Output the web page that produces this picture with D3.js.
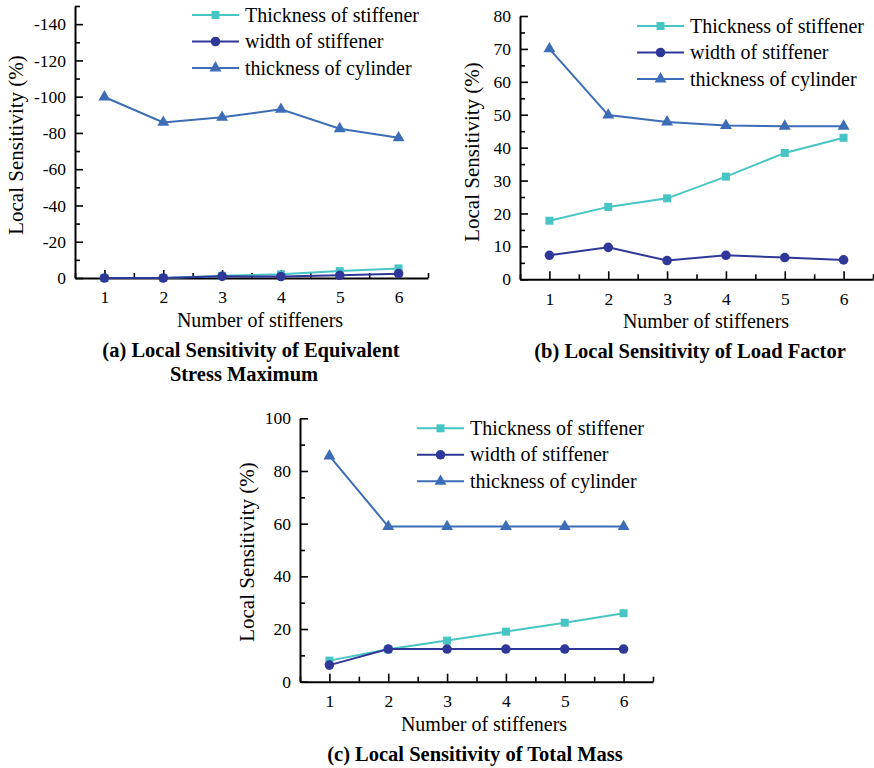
<!DOCTYPE html>
<html>

<head>
    <title>Local Sensitivity vs Number of Stiffeners</title>
    <script src="https://d3js.org/d3.v7.min.js"></script>
    <style>
        body {
            margin: 0;
            background: #fff;
        }

        svg {
            font-family: "Liberation Serif", "Times New Roman", serif;
        }

        .axis path,
        .axis line {
            stroke: #000;
        }

        .axis path {
            stroke-width: 2px;
        }

        .axis line {
            stroke-width: 1.6px;
        }

        .axis text {
            font-size: 17.5px;
            fill: #000;
            font-family: "Liberation Serif", "Times New Roman", serif;
        }
    </style>
</head>

<body>
    <div id="chart"></div>

    <script>
        const width = 874,
            height = 768;

        // x categories, shared by the three panels
        const stiffenerCounts = [1, 2, 3, 4, 5, 6];
        const seriesNames = ["Thickness of stiffener", "width of stiffener", "thickness of cylinder"];
        const seriesColors = ["#47c5c5", "#2f3898", "#3c6db6"];

        // (a) equivalent stress maximum (values are negative)
        const stressThicknessStiffener = [0, 0, -1.2, -2.0, -3.8, -5.3];
        const stressWidthStiffener = [0, 0, -0.9, -0.8, -1.5, -2.4];
        const stressThicknessCylinder = [-99.8, -85.8, -88.6, -93.0, -82.3, -77.3];
        const stressTicks = [0, -20, -40, -60, -80, -100, -120, -140];

        // (b) load factor
        const loadThicknessStiffener = [17.8, 22.0, 24.6, 31.2, 38.4, 43.0];
        const loadWidthStiffener = [7.3, 9.7, 5.7, 7.3, 6.6, 5.9];
        const loadThicknessCylinder = [70.0, 49.9, 47.8, 46.7, 46.5, 46.5];
        const loadTicks = [0, 10, 20, 30, 40, 50, 60, 70, 80];

        // (c) total mass
        const massThicknessStiffener = [8.0, 12.3, 15.6, 19.0, 22.4, 26.0];
        const massWidthStiffener = [6.3, 12.4, 12.4, 12.4, 12.4, 12.4];
        const massThicknessCylinder = [85.7, 58.9, 58.9, 58.9, 58.9, 58.9];
        const massTicks = [0, 20, 40, 60, 80, 100];

        const svg = d3.select("#chart").append("svg")
            .attr("width", width)
            .attr("height", height);

        svg.append("rect").attr("width", width).attr("height", height).attr("fill", "#fff");

        const markers = [d3.symbolSquare, d3.symbolCircle, d3.symbolTriangle];
        const markerSizes = [64, 72, 62];

        function drawPanel(p) {
            var g = svg.append("g");

            var xScale = d3.scaleLinear().domain([0.5, 6.5]).range([p.left, p.right]);
            var yScale = d3.scaleLinear().domain(p.yDomain).range([p.bottom, p.top]);

            var minorX = d3.range(0.5, 6.6, 1);

            // minor ticks first
            g.append("g").attr("class", "axis")
                .attr("transform", "translate(0," + p.bottom + ")")
                .call(d3.axisBottom(xScale).tickValues(minorX).tickSize(-5).tickSizeOuter(0).tickFormat(""))
                .select(".domain").remove();

            g.append("g").attr("class", "axis")
                .attr("transform", "translate(" + p.left + ",0)")
                .call(d3.axisLeft(yScale).tickValues(p.minorTicks).tickSize(-5).tickSizeOuter(0).tickFormat(""))
                .select(".domain").remove();

            g.append("g").attr("class", "axis")
                .attr("transform", "translate(0," + p.bottom + ")")
                .call(d3.axisBottom(xScale).tickValues(stiffenerCounts).tickSize(-8).tickSizeOuter(0).tickPadding(13)
                    .tickFormat(d3.format("d")));

            g.append("g").attr("class", "axis")
                .attr("transform", "translate(" + p.left + ",0)")
                .call(d3.axisLeft(yScale).tickValues(p.ticks).tickSize(-8).tickSizeOuter(0).tickPadding(9)
                    .tickFormat(d => String(d)));

            // series
            p.series.forEach((vals, i) => {
                var pts = stiffenerCounts.map((c, j) => [c, vals[j]]);
                g.append("path")
                    .datum(pts)
                    .attr("fill", "none")
                    .attr("stroke", seriesColors[i])
                    .attr("stroke-width", 2)
                    .attr("d", d3.line().x(d => xScale(d[0])).y(d => yScale(d[1])));

                g.selectAll(".m" + i)
                    .data(pts)
                    .enter().append("path")
                    .attr("class", "m" + i)
                    .attr("transform", d => "translate(" + xScale(d[0]) + "," + yScale(d[1]) + ")")
                    .attr("d", d3.symbol().type(markers[i]).size(markerSizes[i]))
                    .attr("fill", seriesColors[i]);
            });

            // legend
            seriesNames.forEach((name, i) => {
                var ly = p.legendY + i * 26.5;
                g.append("line")
                    .attr("x1", p.legendX).attr("x2", p.legendX + 47)
                    .attr("y1", ly).attr("y2", ly)
                    .attr("stroke", seriesColors[i]).attr("stroke-width", 2);
                g.append("path")
                    .attr("transform", "translate(" + (p.legendX + 23.5) + "," + ly + ")")
                    .attr("d", d3.symbol().type(markers[i]).size(markerSizes[i]))
                    .attr("fill", seriesColors[i]);
                g.append("text")
                    .attr("x", p.legendX + 53)
                    .attr("y", ly + 6.5)
                    .style("font-size", "20px")
                    .text(name);
            });

            // axis titles
            g.append("text")
                .attr("transform", "translate(" + p.yTitleX + "," + p.yTitleY + ") rotate(-90)")
                .attr("dy", "0.35em")
                .style("text-anchor", "middle")
                .style("font-size", "21px")
                .text("Local Sensitivity (%)");

            g.append("text")
                .attr("x", p.xTitleX)
                .attr("y", p.bottom + 49)
                .style("text-anchor", "middle")
                .style("font-size", "20px")
                .text("Number of stiffeners");

            p.caption.forEach((line, i) => {
                g.append("text")
                    .attr("x", line.x)
                    .attr("y", p.bottom + 79 + i * 24)
                    .style("text-anchor", "middle")
                    .style("font-size", "20.5px")
                    .style("font-weight", "bold")
                    .text(line.text);
            });
        }

        drawPanel({
            left: 75, right: 428, top: 6, bottom: 278,
            yDomain: [0, -150],
            ticks: stressTicks,
            minorTicks: d3.range(-10, -151, -20),
            series: [stressThicknessStiffener, stressWidthStiffener, stressThicknessCylinder],
            legendX: 192, legendY: 15,
            yTitleX: 16, yTitleY: 145,
            xTitleX: 260,
            caption: [{ text: "(a) Local Sensitivity of Equivalent", x: 251 },
                      { text: "Stress Maximum", x: 244 }]
        });

        drawPanel({
            left: 520, right: 873, top: 16, bottom: 279.3,
            yDomain: [0, 80],
            ticks: loadTicks,
            minorTicks: d3.range(5, 80, 10),
            series: [loadThicknessStiffener, loadWidthStiffener, loadThicknessCylinder],
            legendX: 637, legendY: 26,
            yTitleX: 472, yTitleY: 152,
            xTitleX: 706,
            caption: [{ text: "(b) Local Sensitivity of Load Factor", x: 690 }]
        });

        drawPanel({
            left: 300, right: 653, top: 418.3, bottom: 681.7,
            yDomain: [0, 100],
            ticks: massTicks,
            minorTicks: d3.range(10, 100, 20),
            series: [massThicknessStiffener, massWidthStiffener, massThicknessCylinder],
            legendX: 417, legendY: 428.3,
            yTitleX: 247, yTitleY: 552,
            xTitleX: 484,
            caption: [{ text: "(c) Local Sensitivity of Total Mass", x: 475 }]
        });
    </script>
</body>

</html>
